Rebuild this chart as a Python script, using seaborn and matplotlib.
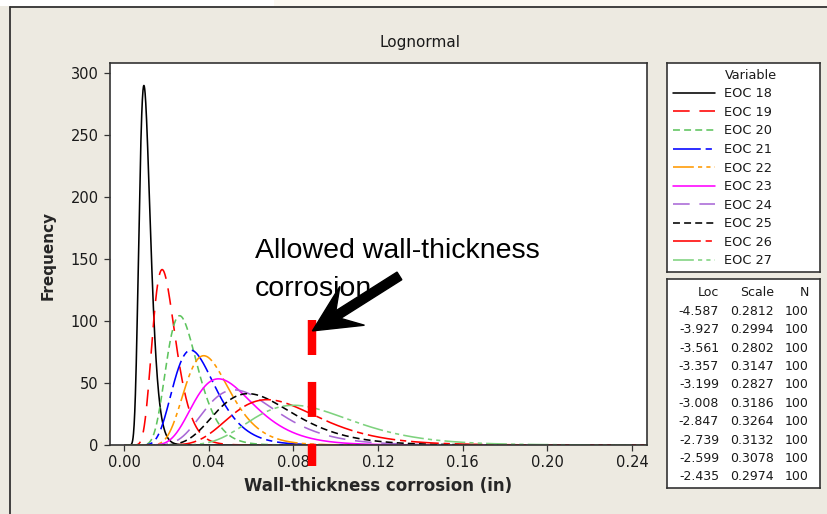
import numpy as np
import pandas as pd
import matplotlib
matplotlib.use("Agg")
import matplotlib.pyplot as plt
import seaborn as sns
from matplotlib.lines import Line2D
from matplotlib.patches import FancyArrow, Rectangle
from matplotlib.transforms import IdentityTransform

# ---- fitted lognormal parameters per inspection variable ----
variables = ["EOC 18", "EOC 19", "EOC 20", "EOC 21", "EOC 22",
             "EOC 23", "EOC 24", "EOC 25", "EOC 26", "EOC 27"]
loc = [-4.587, -3.927, -3.561, -3.357, -3.199,
       -3.008, -2.847, -2.739, -2.599, -2.435]
scale = [0.2812, 0.2994, 0.2802, 0.3147, 0.2827,
         0.3186, 0.3264, 0.3132, 0.3078, 0.2974]
n_obs = [100, 100, 100, 100, 100, 100, 100, 100, 100, 100]
bin_width = 0.02                  # histogram bin width used to scale the fitted pdf
allowed_corrosion = 0.089         # allowed wall-thickness corrosion (in)

x_ticks = [0.00, 0.04, 0.08, 0.12, 0.16, 0.20, 0.24]
y_ticks = [0, 50, 100, 150, 200, 250, 300]

colors = ["#000000", "#FF0000", "#5EC45E", "#0000FF", "#FF9900",
          "#FF00FF", "#A968D6", "#000000", "#FF0000", "#7ED27E"]
# dash patterns in points (solid, dash, short dash, long-short, long-short-short)
dash_cycle = ["", (12, 7), (5, 3), (20, 3.5, 4.5, 3.5), (15, 3, 3, 3, 3, 3)]
dash_list = [dash_cycle[i % 5] for i in range(len(variables))]

sns.set_style("white")
plt.rcParams.update({
    "font.family": ["DejaVu Sans"],
    "lines.scale_dashes": False,
    "axes.edgecolor": "#333333",
    "text.color": "#1a1a1a",
    "xtick.color": "#333333",
    "ytick.color": "#333333",
    "xtick.labelcolor": "#1a1a1a",
    "ytick.labelcolor": "#1a1a1a",
})

# ---- fitted frequency curves ----
grid = np.linspace(0.0005, 0.25, 2500)
frames = []
for name, mu, s, n in zip(variables, loc, scale, n_obs):
    pdf = np.exp(-(np.log(grid) - mu) ** 2 / (2 * s ** 2)) / (grid * s * np.sqrt(2 * np.pi))
    frames.append(pd.DataFrame({"x": grid, "freq": n * bin_width * pdf, "Variable": name}))
df = pd.concat(frames, ignore_index=True)

bg = "#EDEAE1"
W, H = 827, 514
fig = plt.figure(figsize=(W / 100, H / 100), dpi=100, facecolor=bg)

# window strip and frame
fig.add_artist(Rectangle((0, 1 - 6 / H), 274 / W, 6 / H, transform=fig.transFigure,
                         facecolor="white", edgecolor="none"))
fig.add_artist(Rectangle((274 / W, 1 - 6 / H), 1 - 274 / W, 6 / H, transform=fig.transFigure,
                         facecolor="#FBF8F1", edgecolor="none"))
fig.add_artist(Line2D([10 / W, 1], [1 - 6.5 / H, 1 - 6.5 / H], transform=fig.transFigure,
                      color="#333333", lw=1.3))
fig.add_artist(Line2D([10 / W, 10 / W], [0, 1 - 6.5 / H], transform=fig.transFigure,
                      color="#333333", lw=1.3))

ax = fig.add_axes([110 / W, 1 - 445 / H, (647 - 110) / W, (445 - 63) / H])
ax.set_facecolor("white")

sns.lineplot(data=df, x="x", y="freq", hue="Variable", style="Variable",
             palette=dict(zip(variables, colors)), dashes=dict(zip(variables, dash_list)),
             linewidth=1.15, estimator=None, sort=False, legend=False, ax=ax)

ax.set_xlim(-0.0066, 0.247)
ax.set_ylim(0, 308)
ax.set_xticks(x_ticks)
ax.set_xticklabels([f"{t:.2f}" for t in x_ticks])
ax.set_yticks(y_ticks)
ax.tick_params(axis="both", which="major", direction="out", length=4.2, width=0.9,
               labelsize=10.5, bottom=True, left=True)
ax.tick_params(axis="x", pad=3)
ax.tick_params(axis="y", pad=4)
for sp in ax.spines.values():
    sp.set_linewidth(1.2)
    sp.set_color("#333333")

ax.set_xlabel("Wall-thickness corrosion (in)", fontsize=12, fontweight="bold")
ax.set_ylabel("Frequency", fontsize=11, fontweight="bold")
ax.xaxis.set_label_coords(0.5, -0.085)
ax.yaxis.set_label_coords(-0.102, 0.495)

fig.text(420 / W, 1 - 42 / H, "Lognormal", ha="center", va="center", fontsize=11)

# allowed corrosion limit
ax.plot([allowed_corrosion, allowed_corrosion], [101, -17], color="#FF0000", lw=6.1,
        dashes=(25.2, 19.4), solid_capstyle="butt", dash_capstyle="butt",
        clip_on=False, zorder=5)

ax.text(0.0619, 167, "Allowed wall-thickness\ncorrosion", ha="left", va="top",
        fontsize=20.5, family=["Liberation Sans", "DejaVu Sans"], linespacing=1.6,
        color="black", zorder=6)

tip = ax.transData.transform((allowed_corrosion, 92))
dx, dy = 87.0, 55.0
arrow = FancyArrow(tip[0] + dx, tip[1] + dy, -dx, -dy, width=9, head_width=46,
                   head_length=47, length_includes_head=True, overhang=0.35,
                   facecolor="black", edgecolor="black", transform=IdentityTransform(),
                   zorder=10)
fig.add_artist(arrow)

# ---- legend box ----
ax_leg = fig.add_axes([667 / W, 1 - 272 / H, (820 - 667) / W, (272 - 63) / H])
ax_leg.set_facecolor("white")
ax_leg.set_xticks([])
ax_leg.set_yticks([])
for sp in ax_leg.spines.values():
    sp.set_linewidth(1.2)
    sp.set_color("#333333")
handles = [Line2D([], [], linestyle="none")]
handles += [Line2D([], [], color=c, lw=1.15, dashes=d) for c, d in zip(colors, dash_list)]
labels = ["Variable"] + variables
ax_leg.legend(handles, labels, loc="upper left", bbox_to_anchor=(0, 1), frameon=False,
              fontsize=9.3, handlelength=3.3, handletextpad=0.7, borderpad=0.45,
              borderaxespad=0, labelspacing=0.43, handleheight=0.7)

# ---- parameter table ----
ax_tab = fig.add_axes([667 / W, 1 - 488 / H, (820 - 667) / W, (488 - 279) / H])
ax_tab.set_facecolor("white")
ax_tab.set_xticks([])
ax_tab.set_yticks([])
ax_tab.set_xlim(0, 153)
ax_tab.set_ylim(10.6, -0.76)
for sp in ax_tab.spines.values():
    sp.set_linewidth(1.2)
    sp.set_color("#333333")
col_x = [52, 107, 142]
for cx, head in zip(col_x, ["Loc", "Scale", "N"]):
    ax_tab.text(cx, 0, head, ha="right", va="center", fontsize=9)
for r, (mu, s, n) in enumerate(zip(loc, scale, n_obs), start=1):
    ax_tab.text(col_x[0], r, f"{mu:.3f}", ha="right", va="center", fontsize=9)
    ax_tab.text(col_x[1], r, f"{s:.4f}", ha="right", va="center", fontsize=9)
    ax_tab.text(col_x[2], r, f"{n}", ha="right", va="center", fontsize=9)

fig.savefig("out.png", dpi=100, facecolor=bg)
